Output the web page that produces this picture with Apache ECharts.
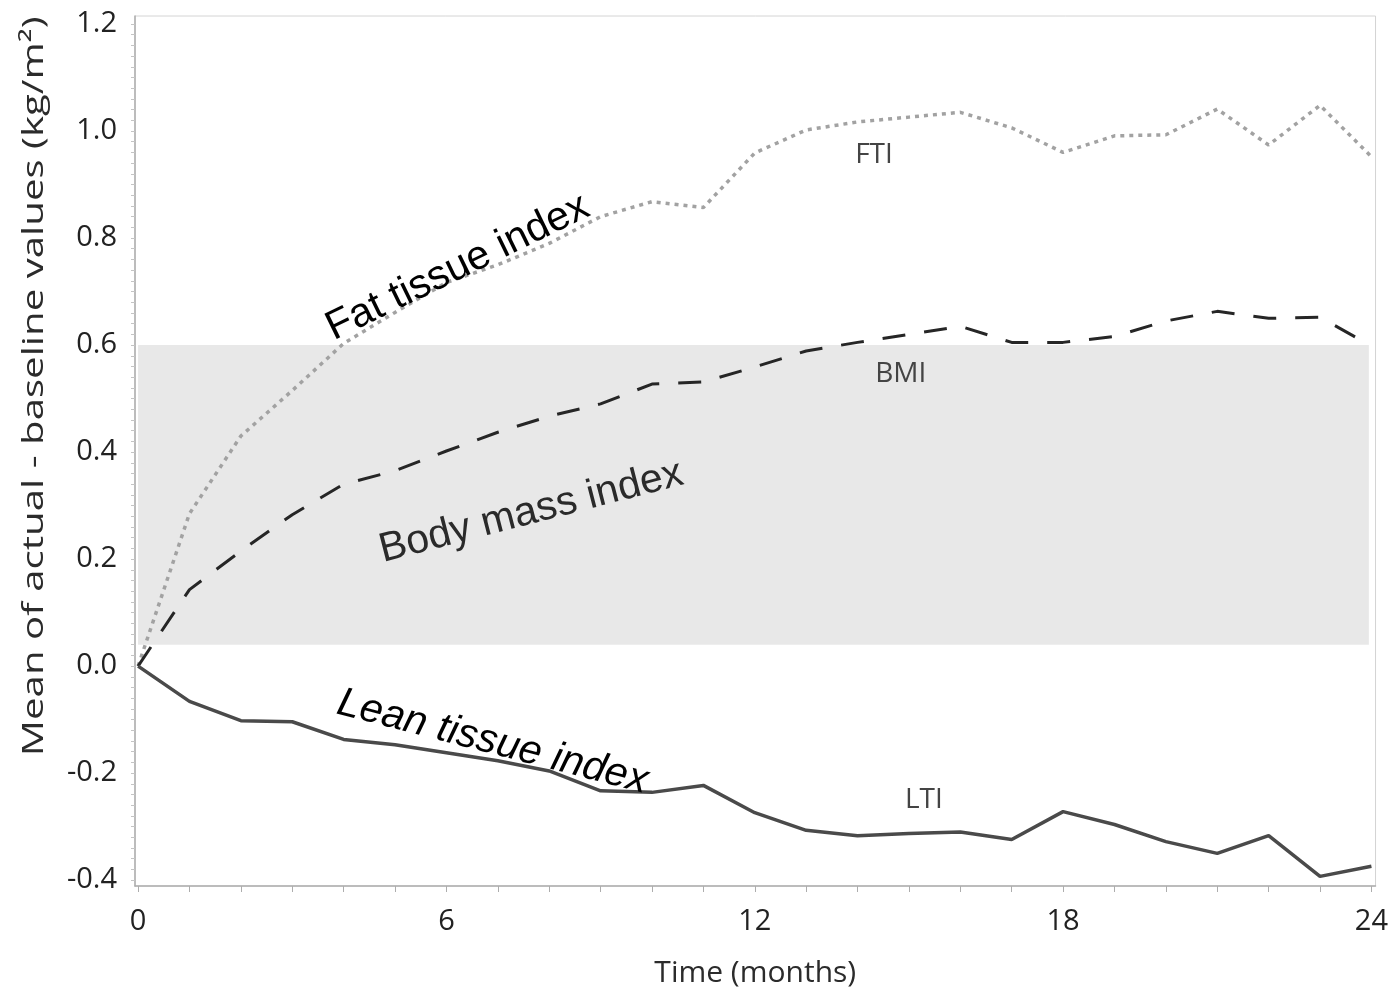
<!DOCTYPE html>
<html>
<head>
<meta charset="utf-8">
<script src="https://cdn.jsdelivr.net/npm/echarts@6/dist/echarts.min.js"></script>
<style>
  html, body { margin: 0; padding: 0; background: #ffffff; }
  #chart { width: 1391px; height: 993px; }
</style>
</head>
<body>
<div id="chart"></div>
<script>
// Months since baseline
const months = [0, 1, 2, 3, 4, 5, 6, 7, 8, 9, 10, 11, 12, 13, 14, 15, 16, 17, 18, 19, 20, 21, 22, 23, 24];

// Mean change from baseline (kg/m²)
const fti = [0, 0.285, 0.43, 0.515, 0.603, 0.661, 0.717, 0.75, 0.79, 0.84, 0.868, 0.857, 0.959, 1.002, 1.017, 1.026, 1.035, 1.006, 0.96, 0.991, 0.993, 1.041, 0.974, 1.048, 0.952];
const bmi = [0, 0.143, 0.215, 0.283, 0.34, 0.365, 0.402, 0.437, 0.467, 0.49, 0.527, 0.531, 0.559, 0.589, 0.605, 0.62, 0.635, 0.605, 0.605, 0.616, 0.645, 0.663, 0.65, 0.652, 0.598];
const lti = [0, -0.066, -0.102, -0.104, -0.137, -0.147, -0.162, -0.177, -0.196, -0.233, -0.236, -0.223, -0.274, -0.307, -0.317, -0.313, -0.31, -0.324, -0.272, -0.296, -0.328, -0.35, -0.317, -0.393, -0.374];

// Shaded reference band
const bandY = [0.04, 0.6];
const bandX = [0, 23.95];

// Axis tick labels
const xTicks = [0, 6, 12, 18, 24];
const yTicks = [-0.4, -0.2, 0.0, 0.2, 0.4, 0.6, 0.8, 1.0, 1.2];

const pairs = (ys) => months.map((m, i) => [m, ys[i]]);

// Fine tick marks along the vertical axis, every 0.02
const yTickMarks = [];
for (let k = -20; k <= 60; k++) yTickMarks.push(+(k * 0.02).toFixed(2));

const chart = echarts.init(document.getElementById('chart'), null, { renderer: 'canvas' });

const labelFont = '"Open Sans", "Noto Sans", sans-serif';
const axisGray = '#adadad';

const option = {
  backgroundColor: '#ffffff',
  animation: false,
  grid: {
    left: 135, right: 11, top: 16, bottom: 104,
    show: true, borderColor: '#d4d4d4', borderWidth: 1, backgroundColor: 'transparent'
  },
  xAxis: {
    type: 'value',
    min: -0.06, max: 24.08,
    name: 'Time (months)',
    nameLocation: 'middle',
    nameGap: 72,
    nameTextStyle: { fontFamily: labelFont, fontSize: 30, color: '#2b2b2b' },
    axisLine: { show: true, onZero: false, lineStyle: { color: axisGray, width: 1.5 } },
    axisTick: { show: true, customValues: months, length: 6, lineStyle: { color: axisGray } },
    axisLabel: {
      customValues: xTicks, margin: 21,
      fontFamily: labelFont, fontSize: 29, color: '#222',
      formatter: (v) => String(Math.round(v))
    },
    splitLine: { show: false }
  },
  yAxis: {
    type: 'value',
    min: -0.411, max: 1.215,
    axisLine: { show: true, onZero: false, lineStyle: { color: axisGray, width: 1.5 } },
    axisTick: { show: true, customValues: yTickMarks, length: 4, lineStyle: { color: '#c4c4c4' } },
    axisLabel: {
      customValues: yTicks, margin: 18,
      fontFamily: labelFont, fontSize: 29, color: '#222',
      formatter: (v) => v.toFixed(1)
    },
    splitLine: { show: false }
  },
  series: [
    {
      name: 'band', type: 'line', data: [], z: 1, silent: true,
      markArea: {
        silent: true,
        itemStyle: { color: '#e8e8e8' },
        data: [[{ xAxis: bandX[0], yAxis: bandY[0] }, { xAxis: bandX[1], yAxis: bandY[1] }]]
      }
    },
    {
      name: 'FTI', type: 'line', data: pairs(fti), z: 3,
      symbol: 'none', smooth: false,
      lineStyle: { color: '#a2a2a2', width: 3.5, type: [4, 5], cap: 'butt' }
    },
    {
      name: 'BMI', type: 'line', data: pairs(bmi), z: 4,
      symbol: 'none', smooth: false,
      lineStyle: { color: '#262626', width: 3, type: [23, 19], cap: 'butt' }
    },
    {
      name: 'LTI', type: 'line', data: pairs(lti), z: 5,
      symbol: 'none', smooth: false,
      lineStyle: { color: '#4a4a4a', width: 3.5, type: 'solid' }
    }
  ]
};

chart.setOption(option);

// Text annotations placed in data coordinates
function textAt(text, x, y, angleDeg, style, stretch) {
  const p = chart.convertToPixel({ gridIndex: 0 }, [x, y]);
  return {
    type: 'text', x: p[0], y: p[1], rotation: angleDeg * Math.PI / 180, z: 10,
    scaleX: stretch || 1,
    style: Object.assign({ text: text, x: 0, y: 0, align: 'center', verticalAlign: 'middle' }, style)
  };
}

const arial = '"Liberation Sans", Arial, sans-serif';
const g = [
  textAt('Fat tissue index', 6.22, 0.745, 26, { font: '41px ' + arial, fill: '#000' }),
  textAt('Body mass index', 7.65, 0.288, 14.5, { font: '41px ' + arial, fill: '#2a2a2a' }),
  textAt('Lean tissue index', 6.9, -0.142, -14.5, { font: 'italic 41px ' + arial, fill: '#000' }),
  textAt('FTI', 14.32, 0.955, 0, { font: '28px ' + labelFont, fill: '#444' }),
  textAt('BMI', 14.84, 0.546, 0, { font: '28px ' + labelFont, fill: '#444' }),
  textAt('LTI', 15.29, -0.251, 0, { font: '28px ' + labelFont, fill: '#444' })
];

// Vertical axis title
const yTitleCenter = chart.convertToPixel({ gridIndex: 0 }, [0, 0.523]);
g.push({
  type: 'text', x: 34, y: yTitleCenter[1], rotation: Math.PI / 2, z: 10,
  scaleX: 1.34,
  style: {
    text: 'Mean of actual - baseline values (kg/m²)', x: 0, y: 0,
    align: 'center', verticalAlign: 'middle',
    font: '30px ' + labelFont, fill: '#2b2b2b'
  }
});

chart.setOption({ graphic: g });
</script>
</body>
</html>
